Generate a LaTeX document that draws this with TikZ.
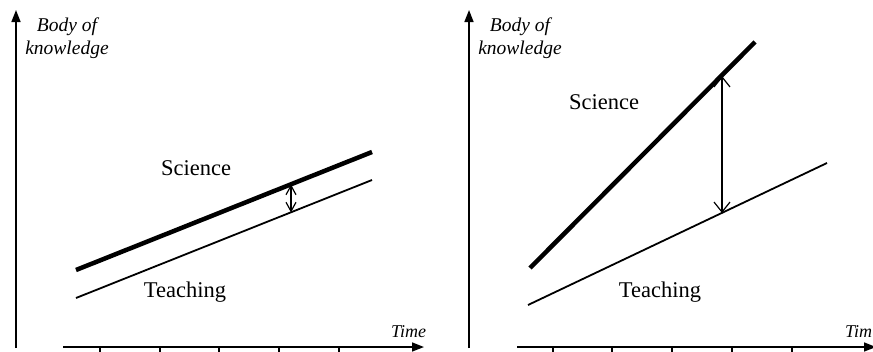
\documentclass[tikz,border=0pt]{standalone}
\usepackage{fontspec}
\setmainfont{Liberation Serif}
\usetikzlibrary{arrows.meta}
\begin{document}
\begin{tikzpicture}[x=1pt,y=-1pt,
  axis/.style={line width=1.6pt,-{Triangle[length=12pt,width=9pt]}},
  tickline/.style={line width=1.4pt},
  sci/.style={line width=4.5pt,line cap=butt},
  teach/.style={line width=1.8pt},
  gap/.style={line width=1.2pt,{Straight Barb[length=10pt,width=16pt]}-{Straight Barb[length=10pt,width=16pt]}},
  smallgap/.style={line width=1.2pt,{Straight Barb[length=9pt,width=10pt]}-{Straight Barb[length=9pt,width=10pt]}},
  lbl/.style={font=\fontsize{22.5}{24}\selectfont,inner sep=0pt},
  axlbl/.style={font=\fontsize{19.5}{23}\selectfont\itshape,inner sep=0pt,align=center},
  timelbl/.style={font=\fontsize{18}{20}\selectfont\itshape,inner sep=0pt,anchor=west}]
\useasboundingbox (0,0) rectangle (873,351);
\clip (0,0) rectangle (873,351);
% ---------- left panel ----------
\coordinate (ly0) at (16,348);
\coordinate (ly1) at (16,10);
\coordinate (lx0) at (63,347);
\coordinate (lx1) at (424,347);
\draw[axis] (ly0) -- (ly1);
\draw[axis] (lx0) -- (lx1);
\foreach \x [count=\i] in {100,160,219,279,339}{
  \coordinate (lt\i a) at (\x,347);
  \coordinate (lt\i b) at (\x,353);
  \draw[tickline] (lt\i a) -- (lt\i b);
}
\node[axlbl] (lbody) at (67,38) {Body of\\knowledge};
\node[timelbl] (ltime) at (391,332) {Time};
\coordinate (ls0) at (76,270);
\coordinate (ls1) at (372,152);
\coordinate (lt0) at (76,298);
\coordinate (lt1) at (372,180);
\draw[sci] (ls0) -- (ls1);
\draw[teach] (lt0) -- (lt1);
\coordinate (lga) at (291,184.5);
\coordinate (lgb) at (291,212.5);
\draw[smallgap] (lga) -- (lgb);
\node[lbl] (lsci) at (196,168) {Science};
\node[lbl] (lteach) at (185,292) {Teaching};
% ---------- right panel ----------
\coordinate (ry0) at (469,348);
\coordinate (ry1) at (469,10);
\coordinate (rx0) at (517,347);
\coordinate (rx1) at (876,347);
\draw[axis] (ry0) -- (ry1);
\draw[axis] (rx0) -- (rx1);
\foreach \x [count=\i] in {553,612,672,732,792}{
  \coordinate (rt\i a) at (\x,347);
  \coordinate (rt\i b) at (\x,353);
  \draw[tickline] (rt\i a) -- (rt\i b);
}
\node[axlbl] (rbody) at (520,38) {Body of\\knowledge};
\node[timelbl] (rtime) at (845,332) {Tim};
\coordinate (rs0) at (530,268);
\coordinate (rs1) at (755,42);
\coordinate (rt0) at (528,305);
\coordinate (rt1) at (827,163);
\draw[sci] (rs0) -- (rs1);
\draw[teach] (rt0) -- (rt1);
\coordinate (rga) at (722,76);
\coordinate (rgb) at (722,213);
\draw[gap] (rga) -- (rgb);
\node[lbl] (rsci) at (604,102) {Science};
\node[lbl] (rteach) at (660,292) {Teaching};
\end{tikzpicture}
\end{document}
